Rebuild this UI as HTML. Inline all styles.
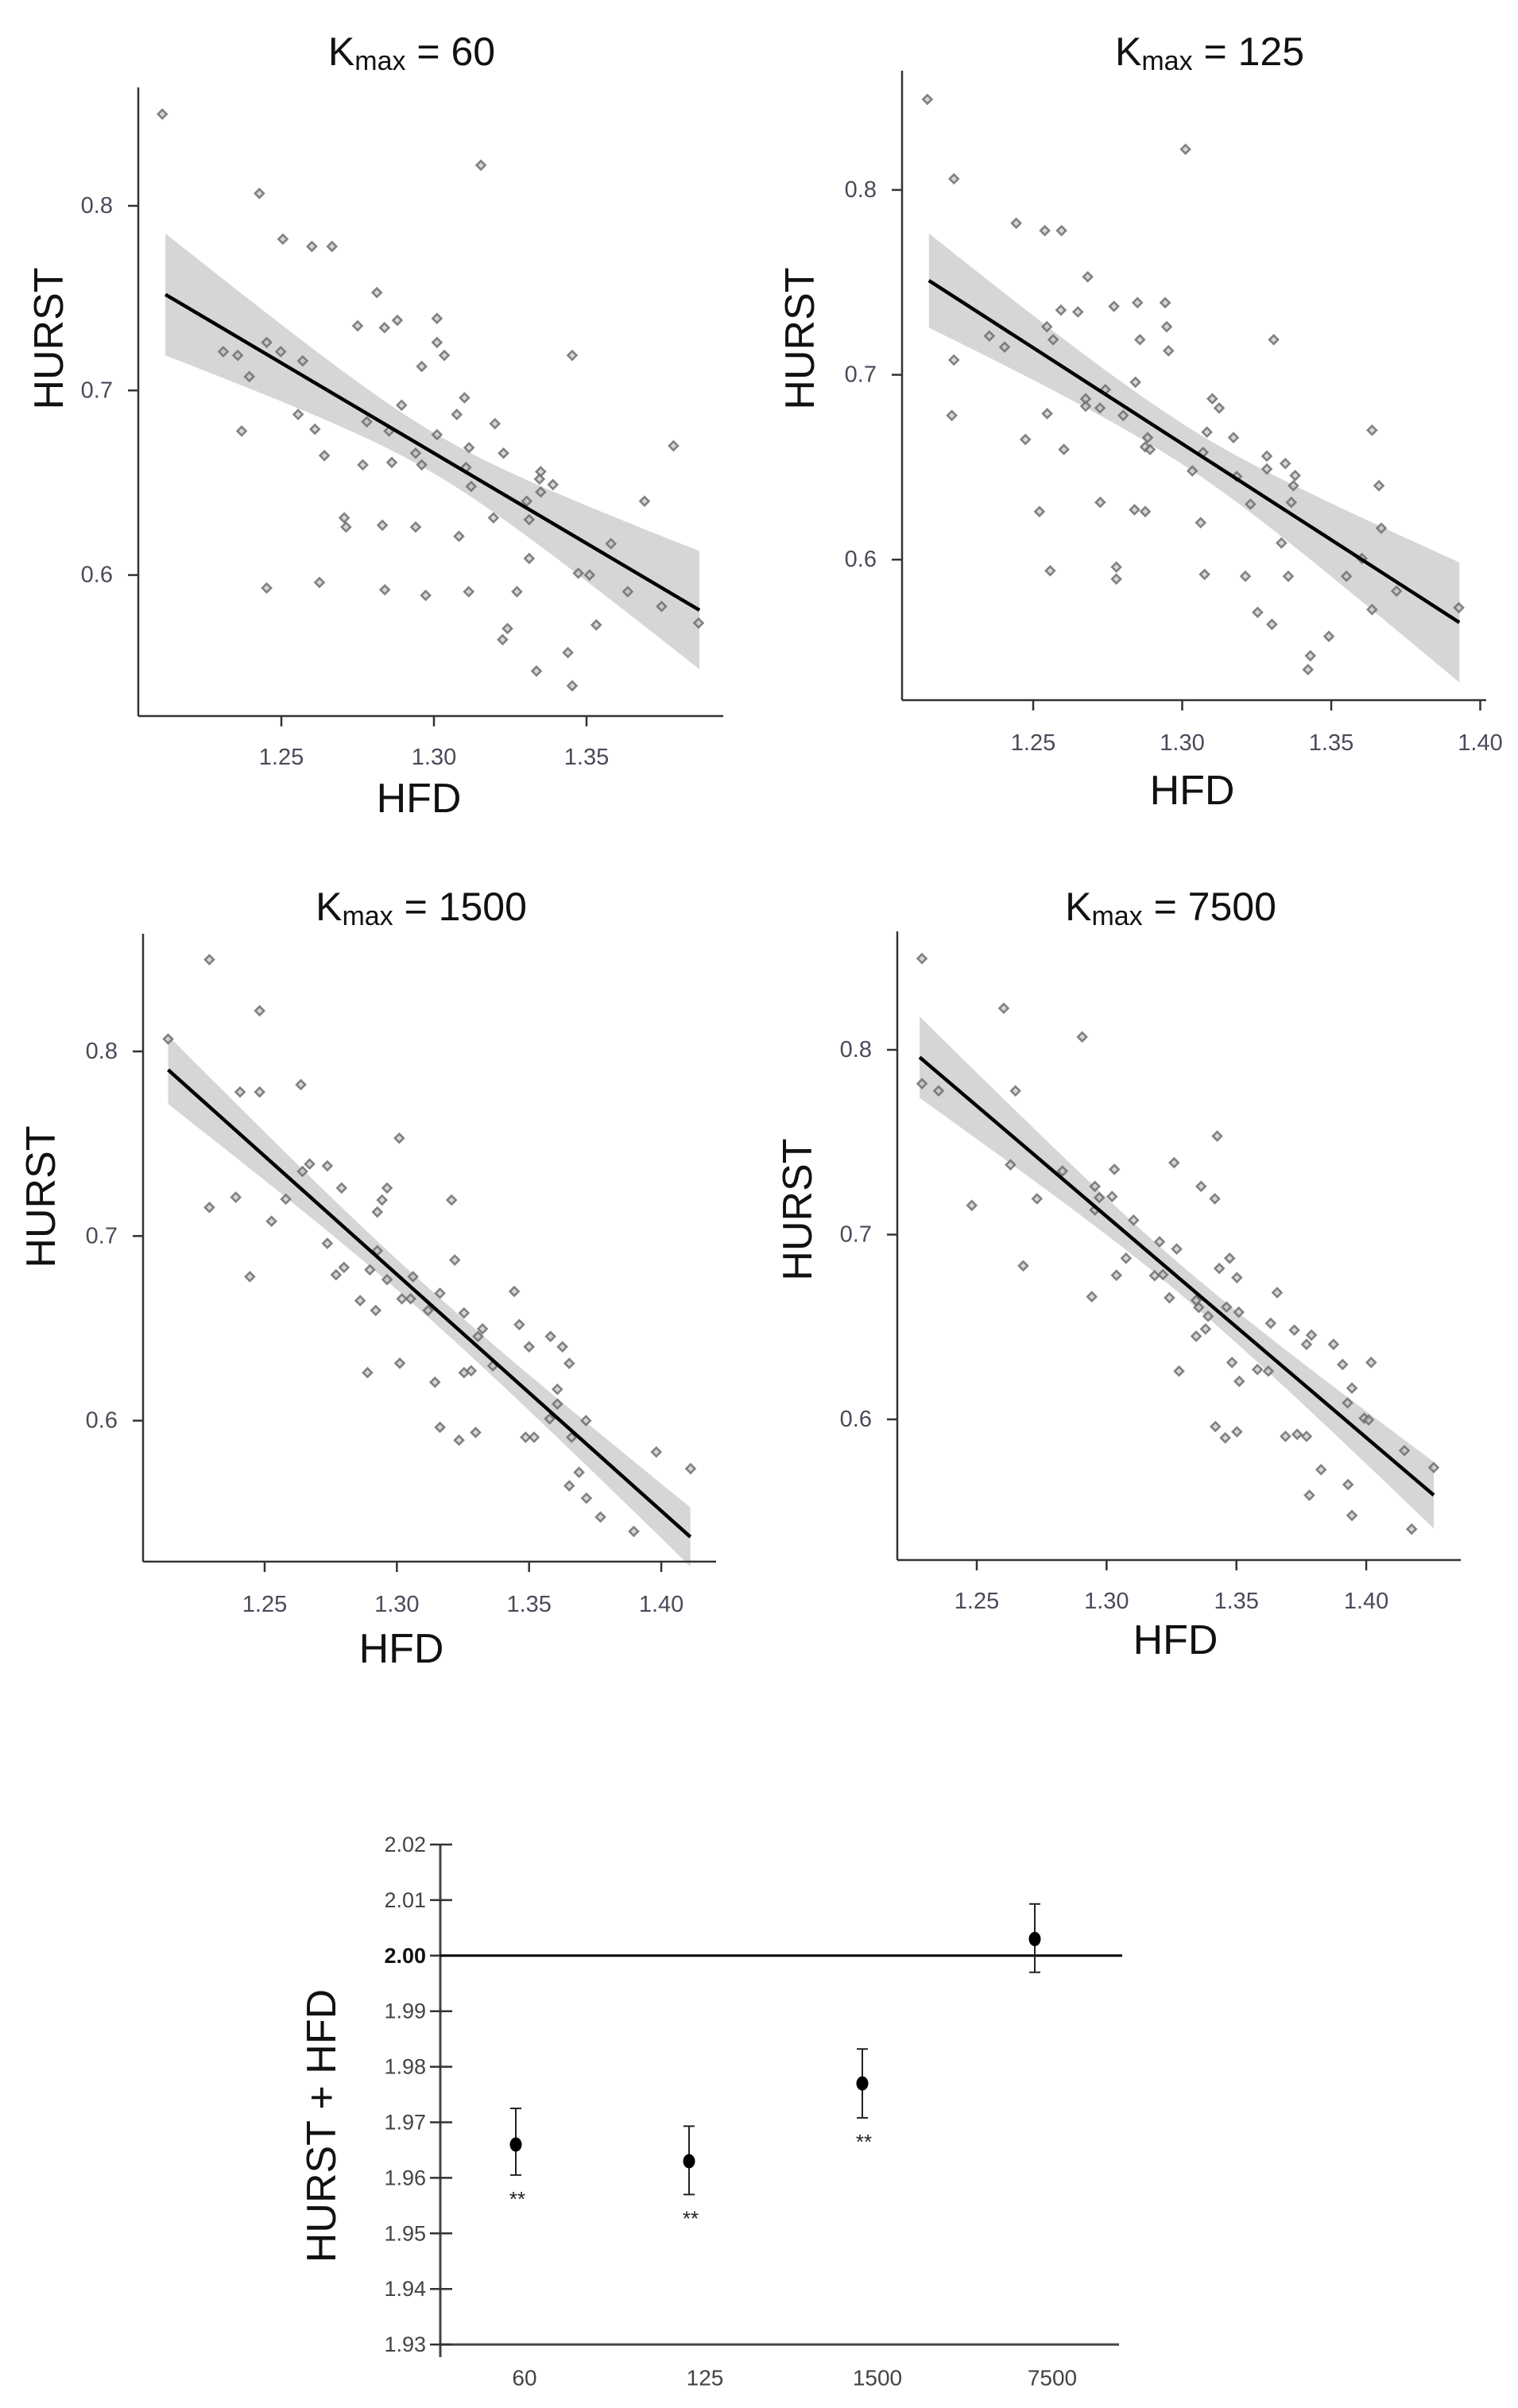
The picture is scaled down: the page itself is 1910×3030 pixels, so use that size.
<!DOCTYPE html>
<html><head><meta charset="utf-8"><style>
html,body{margin:0;padding:0;background:#fff;}
svg{display:block;font-family:"Liberation Sans",Arial,sans-serif;}
</style></head><body>
<svg id="root" width="1910" height="3030" viewBox="0 0 1910 3030"></svg>
<script>
// ---------- Data ----------
const p1x=[1.211,1.3154,1.2428,1.2505,1.260,1.2666,1.2813,1.275,1.2838,1.288,1.301,1.301,1.3034,1.296,1.3453,1.231,1.2357,1.2452,1.2498,1.257,1.2395,1.31,1.2894,1.3075,1.2555,1.261,1.237,1.278,1.320,1.301,1.2853,1.3115,1.3228,1.3785,1.2641,1.294,1.2767,1.2862,1.296,1.3105,1.335,1.3346,1.339,1.3122,1.335,1.3304,1.369,1.2706,1.2712,1.2831,1.294,1.3195,1.3312,1.3082,1.358,1.3312,1.3473,1.351,1.2452,1.2625,1.2839,1.2973,1.3114,1.3272,1.3635,1.3746,1.3867,1.3532,1.3241,1.3225,1.3439,1.3336,1.3453];
const p1y=[0.8497,0.822,0.8067,0.782,0.778,0.778,0.753,0.735,0.734,0.738,0.739,0.726,0.719,0.713,0.719,0.721,0.719,0.726,0.721,0.716,0.7075,0.696,0.692,0.687,0.687,0.679,0.678,0.683,0.682,0.676,0.678,0.669,0.666,0.670,0.6647,0.666,0.6597,0.661,0.6597,0.6583,0.656,0.652,0.649,0.648,0.645,0.640,0.640,0.631,0.626,0.627,0.626,0.631,0.630,0.621,0.617,0.609,0.601,0.600,0.593,0.596,0.592,0.589,0.591,0.591,0.591,0.583,0.574,0.573,0.571,0.565,0.558,0.548,0.540];
const p2x=[1.2145,1.3011,1.2234,1.2443,1.2539,1.2595,1.2683,1.2593,1.265,1.2771,1.285,1.2943,1.2546,1.2948,1.2567,1.2858,1.2954,1.3307,1.2353,1.2404,1.2234,1.2742,1.2843,1.2676,1.2676,1.2724,1.2802,1.3101,1.3124,1.2227,1.2547,1.3083,1.3172,1.2474,1.2884,1.2603,1.2876,1.2892,1.307,1.3284,1.3346,1.3284,1.3034,1.3379,1.3373,1.366,1.3637,1.3183,1.3366,1.3229,1.2725,1.2521,1.284,1.2876,1.3062,1.3668,1.3333,1.2557,1.2779,1.2779,1.3075,1.3212,1.3356,1.3551,1.3719,1.3928,1.3637,1.3253,1.3301,1.3492,1.343,1.3422,1.3603];
const p2y=[0.849,0.822,0.806,0.782,0.778,0.778,0.753,0.735,0.734,0.737,0.739,0.739,0.726,0.726,0.719,0.719,0.713,0.719,0.721,0.715,0.708,0.692,0.696,0.687,0.683,0.682,0.678,0.687,0.682,0.678,0.679,0.669,0.666,0.665,0.666,0.6596,0.661,0.6596,0.658,0.656,0.652,0.649,0.648,0.6455,0.640,0.640,0.670,0.645,0.631,0.630,0.631,0.626,0.627,0.626,0.620,0.617,0.609,0.594,0.596,0.5895,0.592,0.591,0.591,0.591,0.583,0.574,0.573,0.5715,0.565,0.5585,0.548,0.5405,0.6006];
const p3x=[1.2291,1.2481,1.2135,1.2637,1.2407,1.2481,1.3009,1.267,1.2643,1.2737,1.2791,1.2963,1.2944,1.2926,1.3207,1.2291,1.2391,1.258,1.2526,1.2737,1.2926,1.3219,1.2898,1.277,1.28,1.2444,1.2963,1.3061,1.3163,1.3019,1.3052,1.2861,1.292,1.3118,1.3254,1.3324,1.3444,1.3463,1.35,1.3581,1.3626,1.3652,1.3607,1.3607,1.3578,1.3715,1.3307,1.3363,1.3011,1.2889,1.3254,1.3281,1.3144,1.3163,1.3235,1.3298,1.3487,1.3519,1.3661,1.3981,1.4111,1.3689,1.3652,1.3717,1.377,1.3896];
const p3y=[0.8497,0.822,0.8067,0.782,0.778,0.778,0.753,0.739,0.735,0.738,0.726,0.726,0.7195,0.713,0.7195,0.7155,0.721,0.720,0.708,0.696,0.692,0.687,0.6817,0.679,0.683,0.678,0.6764,0.678,0.669,0.666,0.666,0.665,0.6597,0.6597,0.6583,0.6497,0.670,0.652,0.640,0.6456,0.640,0.631,0.617,0.609,0.601,0.600,0.6456,0.6297,0.6311,0.626,0.626,0.627,0.6208,0.5964,0.5894,0.5936,0.591,0.591,0.591,0.583,0.574,0.572,0.5647,0.558,0.5478,0.540];
const p4x=[1.2289,1.2604,1.2906,1.2289,1.2353,1.2649,1.3426,1.326,1.263,1.283,1.303,1.2955,1.3364,1.2972,1.3021,1.2732,1.3417,1.2955,1.2481,1.3104,1.3204,1.327,1.3474,1.3075,1.2679,1.3434,1.3185,1.3038,1.3217,1.3502,1.2943,1.3242,1.3345,1.3657,1.3355,1.3462,1.3509,1.3391,1.3632,1.3381,1.3345,1.3723,1.3789,1.377,1.3874,1.4019,1.3909,1.3483,1.3581,1.3623,1.3279,1.3511,1.3945,1.3928,1.3992,1.4009,1.3419,1.3457,1.3502,1.3689,1.3734,1.377,1.4147,1.426,1.3826,1.393,1.3781,1.3945,1.4175];
const p4y=[0.8494,0.8225,0.807,0.7817,0.7778,0.7778,0.7533,0.7389,0.7378,0.7344,0.7353,0.7261,0.7261,0.72,0.7206,0.7194,0.7194,0.7133,0.7158,0.7078,0.6961,0.6922,0.6872,0.6872,0.6831,0.6817,0.6778,0.678,0.6783,0.6767,0.6664,0.6658,0.6644,0.6686,0.6606,0.6608,0.658,0.6558,0.652,0.6489,0.645,0.6483,0.6456,0.6406,0.6406,0.6308,0.6297,0.6308,0.627,0.6261,0.6261,0.6206,0.6169,0.6089,0.6006,0.5997,0.5961,0.59,0.5933,0.5908,0.5919,0.5908,0.5831,0.5739,0.5728,0.5647,0.5589,0.548,0.5406];
const p1LineX=[1.212,1.387], p1LineY=[0.752,0.581];
const p2LineX=[1.215,1.393], p2LineY=[0.751,0.566];
const p3LineX=[1.2135,1.411], p3LineY=[0.790,0.537];
const p4LineX=[1.228,1.426], p4LineY=[0.796,0.559];
const p1Band=[0.033,0.011,0.032], p1BandMid=1.30;
const p2Band=[0.0255,0.011,0.0325], p2BandMid=1.30;
const p3Band=[0.0185,0.008,0.016], p3BandMid=1.31;
const p4Band=[0.022,0.008,0.018], p4BandMid=1.33;
const yTicks=[0.6,0.7,0.8];
const yTickLabels=["0.6","0.7","0.8"];
const xTicks=[1.25,1.30,1.35,1.40];
const xTickLabels=["1.25","1.30","1.35","1.40"];
const titles=["60","125","1500","7500"];
const sumCats=["60","125","1500","7500"];
const sumMean=[1.966,1.963,1.977,2.003];
const sumLo=[1.9605,1.957,1.9708,1.997];
const sumHi=[1.9725,1.9693,1.9832,2.0093];
const sumSig=["**","**","**",""];
const sumTicks=[1.93,1.94,1.95,1.96,1.97,1.98,1.99,2.00,2.01,2.02];
const sumTickLabels=["1.93","1.94","1.95","1.96","1.97","1.98","1.99","2.00","2.01","2.02"];
const sumRef=2.00;

const NS="http://www.w3.org/2000/svg";
const root=document.getElementById('root');
function mk(tag,attrs,parent){const e=document.createElementNS(NS,tag);for(const k in attrs)e.setAttribute(k,attrs[k]);(parent||root).appendChild(e);return e;}

const panels=[
 {xs:p1x,ys:p1y,lx:p1LineX,ly:p1LineY,band:p1Band,bm:p1BandMid,ax:174,top:110,bot:901,right:910,x0:354,kx:3840,y0:259,ky:2323,nx:3,tx:518,ty:65,hx:527,hy:1005,ux:62,uy:426,xl:953},
 {xs:p2x,ys:p2y,lx:p2LineX,ly:p2LineY,band:p2Band,bm:p2BandMid,ax:1135,top:89,bot:881,right:1870,x0:1300,kx:3750,y0:239,ky:2326,nx:4,tx:1522,ty:65,hx:1500,hy:995,ux:1007,uy:426,xl:935},
 {xs:p3x,ys:p3y,lx:p3LineX,ly:p3LineY,band:p3Band,bm:p3BandMid,ax:180,top:1175,bot:1965,right:901,x0:333,kx:3327,y0:1323,ky:2323,nx:4,tx:530,ty:1141,hx:505,hy:2075,ux:52,uy:1506,xl:2019},
 {xs:p4x,ys:p4y,lx:p4LineX,ly:p4LineY,band:p4Band,bm:p4BandMid,ax:1129,top:1172,bot:1963,right:1838,x0:1229,kx:3267,y0:1321,ky:2325,nx:4,tx:1473,ty:1141,hx:1479,hy:2064,ux:1004,uy:1522,xl:2015}
];

panels.forEach((p,i)=>{
 const g=mk('g',{});
 
 
 const X=v=>p.x0+(v-1.25)*p.kx, Y=v=>p.y0-(v-0.8)*p.ky;
 const xl=p.lx[0],xr=p.lx[1];
 const lineAt=v=>p.ly[0]+(p.ly[1]-p.ly[0])*(v-xl)/(xr-xl);
 const hw=v=>{const hm=p.band[1];const side=v<p.bm?0:2;const ext=v<p.bm?xl:xr;const t=(v-p.bm)/(ext-p.bm);return Math.sqrt(hm*hm+(p.band[side]*p.band[side]-hm*hm)*t*t);};
 const up=[],lo=[];
 for(let k=0;k<=40;k++){const v=xl+(xr-xl)*k/40;up.push(X(v).toFixed(1)+','+Y(lineAt(v)+hw(v)).toFixed(1));lo.unshift(X(v).toFixed(1)+','+Y(lineAt(v)-hw(v)).toFixed(1));}
 const band=mk('polygon',{points:up.concat(lo).join(' '),fill:'#d6d6d6'},g);
 
 
 p.xs.forEach((v,j)=>{const cx=X(v),cy=Y(p.ys[j]);
  const d=mk('polygon',{points:`${cx},${cy-5.5} ${cx+5.5},${cy} ${cx},${cy+5.5} ${cx-5.5},${cy}`,fill:'#bdbdbd','fill-opacity':'0.6',stroke:'#6e6e6e','stroke-width':2.6,'stroke-opacity':'0.85'},g);
  
  
 });
 const ln=mk('line',{x1:X(xl),y1:Y(p.ly[0]),x2:X(xr),y2:Y(p.ly[1]),stroke:'#000','stroke-width':4.5},g);
 
 
 const ya=mk('line',{x1:p.ax,y1:p.top,x2:p.ax,y2:p.bot,stroke:'#333','stroke-width':2.5},g);
 
 
 const xa=mk('line',{x1:p.ax,y1:p.bot,x2:p.right,y2:p.bot,stroke:'#333','stroke-width':2.5},g);
 
 
 yTicks.forEach((v,j)=>{
  mk('line',{x1:p.ax-13,y1:Y(v),x2:p.ax,y2:Y(v),stroke:'#333','stroke-width':2.5},g);
  const t=mk('text',{x:p.ax-32,y:Y(v),'text-anchor':'end','dominant-baseline':'central','font-size':29,fill:'#4a4a5a'},g);
  t.textContent=yTickLabels[j];
  
  
 });
 xTicks.slice(0,p.nx).forEach((v,j)=>{
  mk('line',{x1:X(v),y1:p.bot,x2:X(v),y2:p.bot+13,stroke:'#333','stroke-width':2.5},g);
  const t=mk('text',{x:X(v),y:p.xl,'text-anchor':'middle','dominant-baseline':'central','font-size':29,fill:'#4a4a5a'},g);
  t.textContent=xTickLabels[j];
  
  
 });
 const tt=mk('text',{x:p.tx,y:p.ty,'text-anchor':'middle','dominant-baseline':'central','font-size':50,fill:'#111'},g);
 tt.innerHTML='K<tspan font-size="34" dy="12">max</tspan><tspan dy="-12"> = '+titles[i]+'</tspan>';
 
 
 const hl=mk('text',{x:p.hx,y:p.hy,'text-anchor':'middle','dominant-baseline':'central','font-size':52,fill:'#111'},g);
 hl.textContent='HFD';
 
 
 const yl=mk('text',{x:p.ux,y:p.uy,'text-anchor':'middle','dominant-baseline':'central','font-size':52,fill:'#111',transform:`rotate(-90 ${p.ux} ${p.uy})`},g);
 yl.textContent='HURST';
 
 
});

(function(){
 const g=mk('g',{});
 
 
 const ax=554, yTop=2321, k=6990, right=1408;
 const Y=v=>yTop+(2.02-v)*k;
 const catX=[649,867,1085,1302];
 const labX=[660,887,1104,1324];
 const ya=mk('line',{x1:ax,y1:Y(2.02),x2:ax,y2:2966,stroke:'#444','stroke-width':3},g);
 
 
 const xa=mk('line',{x1:ax,y1:Y(1.93),x2:right,y2:Y(1.93),stroke:'#444','stroke-width':3},g);
 
 
 sumTicks.forEach((v,j)=>{
  mk('line',{x1:ax-13,y1:Y(v),x2:ax+15,y2:Y(v),stroke:'#333','stroke-width':2.5},g);
  const bold=Math.abs(v-sumRef)<1e-9;
  const t=mk('text',{x:ax-18,y:Y(v),'text-anchor':'end','dominant-baseline':'central','font-size':27,fill:bold?'#111':'#444','font-weight':bold?'bold':'normal'},g);
  t.textContent=sumTickLabels[j];
  
  
 });
 const ref=mk('line',{x1:ax,y1:Y(sumRef),x2:1412,y2:Y(sumRef),stroke:'#000','stroke-width':3},g);
 
 
 sumCats.forEach((c,j)=>{
  const x=catX[j];
  const eb=mk('path',{d:`M${x-7},${Y(sumHi[j])}H${x+7}M${x},${Y(sumHi[j])}V${Y(sumLo[j])}M${x-7},${Y(sumLo[j])}H${x+7}`,stroke:'#222','stroke-width':2,fill:'none'},g);
  
  
  const d=mk('ellipse',{cx:x,cy:Y(sumMean[j]),rx:7.5,ry:9,fill:'#000'},g);
  
  
  if(sumSig[j]){const s=mk('text',{x:x+2,y:Y(sumLo[j])+30,'text-anchor':'middle','dominant-baseline':'central','font-size':26,fill:'#222'},g);
   s.textContent=sumSig[j];
   
   }
  const t=mk('text',{x:labX[j],y:2992,'text-anchor':'middle','dominant-baseline':'central','font-size':28,fill:'#444'},g);
  t.textContent=c;
  
  
 });
 const yl=mk('text',{x:405,y:2675,'text-anchor':'middle','dominant-baseline':'central','font-size':52,fill:'#111',transform:'rotate(-90 405 2675)'},g);
 yl.textContent='HURST + HFD';
 
 
})();
</script>
</body></html>
